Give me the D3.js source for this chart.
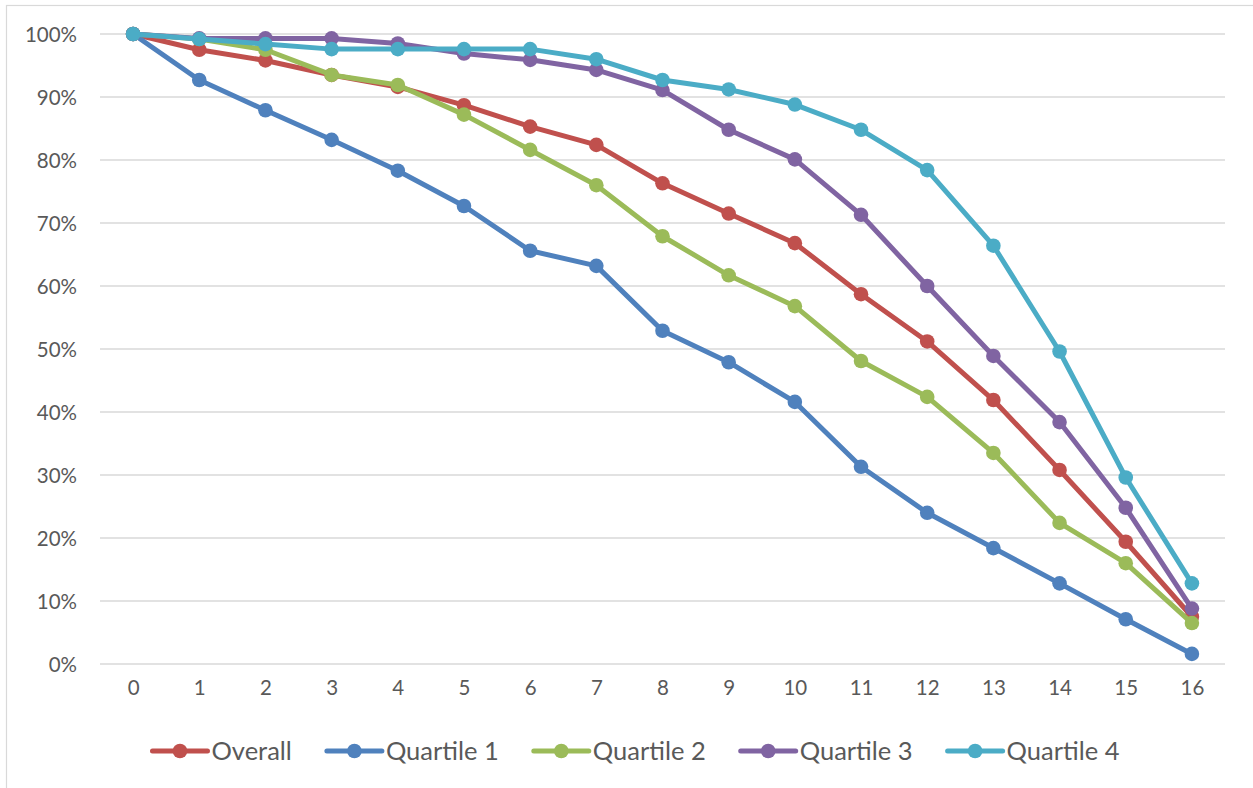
<!DOCTYPE html>
<html>
<head>
<meta charset="utf-8">
<script src="https://cdn.jsdelivr.net/npm/d3@7"></script>
<style>
  html, body { margin: 0; padding: 0; background: #fff; }
  svg { display: block; }
</style>
</head>
<body>
<svg id="chart" width="1253" height="788"></svg>
<script>
const categories = ["0","1","2","3","4","5","6","7","8","9","10","11","12","13","14","15","16"];
const yTicks = [0, 0.1, 0.2, 0.3, 0.4, 0.5, 0.6, 0.7, 0.8, 0.9, 1.0];
const seriesNames = ["Overall", "Quartile 1", "Quartile 2", "Quartile 3", "Quartile 4"];
const seriesColors = ["#C0504D", "#4F81BD", "#9BBB59", "#8064A2", "#4BACC6"];

const overall   = [1.000, 0.975, 0.958, 0.935, 0.916, 0.887, 0.853, 0.824, 0.763, 0.715, 0.668, 0.587, 0.512, 0.419, 0.308, 0.194, 0.075];
const quartile1 = [1.000, 0.927, 0.879, 0.832, 0.783, 0.727, 0.656, 0.632, 0.529, 0.479, 0.416, 0.313, 0.240, 0.184, 0.128, 0.071, 0.016];
const quartile2 = [1.000, 0.992, 0.975, 0.935, 0.919, 0.872, 0.816, 0.760, 0.679, 0.617, 0.568, 0.481, 0.424, 0.335, 0.224, 0.160, 0.065];
const quartile3 = [1.000, 0.993, 0.993, 0.993, 0.985, 0.969, 0.959, 0.943, 0.911, 0.848, 0.801, 0.713, 0.600, 0.489, 0.384, 0.248, 0.088];
const quartile4 = [1.000, 0.992, 0.984, 0.976, 0.976, 0.976, 0.976, 0.960, 0.927, 0.912, 0.888, 0.848, 0.784, 0.664, 0.496, 0.296, 0.128];

const seriesValues = [overall, quartile1, quartile2, quartile3, quartile4];

const svg = d3.select("#chart");
const FONT = "Lato, 'Open Sans', sans-serif";
const TEXT = "#595959";

// chart border
svg.append("rect")
  .attr("x", 6.5).attr("y", 5.5)
  .attr("width", 1260).attr("height", 800)
  .attr("fill", "none").attr("stroke", "#d9d9d9").attr("stroke-width", 1.2);

const x = d3.scalePoint().domain(categories).range([100, 1225]).padding(0.5);
const y = d3.scaleLinear().domain([0, 1]).range([664, 34]);

// gridlines
svg.append("g").selectAll("line").data(yTicks).join("line")
  .attr("x1", 100).attr("x2", 1225)
  .attr("y1", d => y(d)).attr("y2", d => y(d))
  .attr("stroke", "#d9d9d9").attr("stroke-width", 1.5);

// y axis labels
const yAxis = d3.axisLeft(y).tickValues(yTicks).tickFormat(d3.format(".0%")).tickSize(0).tickPadding(0);
const yg = svg.append("g").attr("transform", "translate(77,0)").call(yAxis);
yg.select(".domain").remove();
yg.selectAll("text").attr("font-family", FONT).attr("font-size", 20.5).attr("fill", TEXT).attr("dy", "0.35em");

// x axis labels
const xAxis = d3.axisBottom(x).tickSize(0).tickPadding(0);
const xg = svg.append("g").attr("transform", "translate(0,680)").call(xAxis);
xg.select(".domain").remove();
xg.selectAll("text").attr("font-family", FONT).attr("font-size", 20.5).attr("fill", TEXT).attr("dy", "0.71em");

// lines + markers
const line = d3.line().x((d, i) => x(categories[i])).y(d => y(d));
seriesValues.forEach((vals, si) => {
  const g = svg.append("g");
  g.append("path").datum(vals)
    .attr("d", line).attr("fill", "none")
    .attr("stroke", seriesColors[si]).attr("stroke-width", 5)
    .attr("stroke-linejoin", "round").attr("stroke-linecap", "round");
  g.selectAll("circle").data(vals).join("circle")
    .attr("cx", (d, i) => x(categories[i])).attr("cy", d => y(d))
    .attr("r", 7.3).attr("fill", seriesColors[si]);
});

// legend
const legend = svg.append("g");
const ly = 751;
let cursor = 0;
seriesNames.forEach((name, i) => {
  const g = legend.append("g");
  g.append("line").attr("x1", 0).attr("x2", 55).attr("y1", ly).attr("y2", ly)
    .attr("stroke", seriesColors[i]).attr("stroke-width", 5).attr("stroke-linecap", "round");
  g.append("circle").attr("cx", 27.5).attr("cy", ly).attr("r", 7.3).attr("fill", seriesColors[i]);
  const t = g.append("text").attr("x", 59).attr("y", ly).attr("dy", "0.35em")
    .attr("font-family", FONT).attr("font-size", 25.5).attr("fill", TEXT).text(name);
  const w = 59 + t.node().getComputedTextLength();
  g.attr("transform", `translate(${cursor},0)`);
  cursor += w + 35;
});
const total = cursor - 35;
legend.attr("transform", `translate(${636 - total / 2},0)`);
</script>
</body>
</html>
